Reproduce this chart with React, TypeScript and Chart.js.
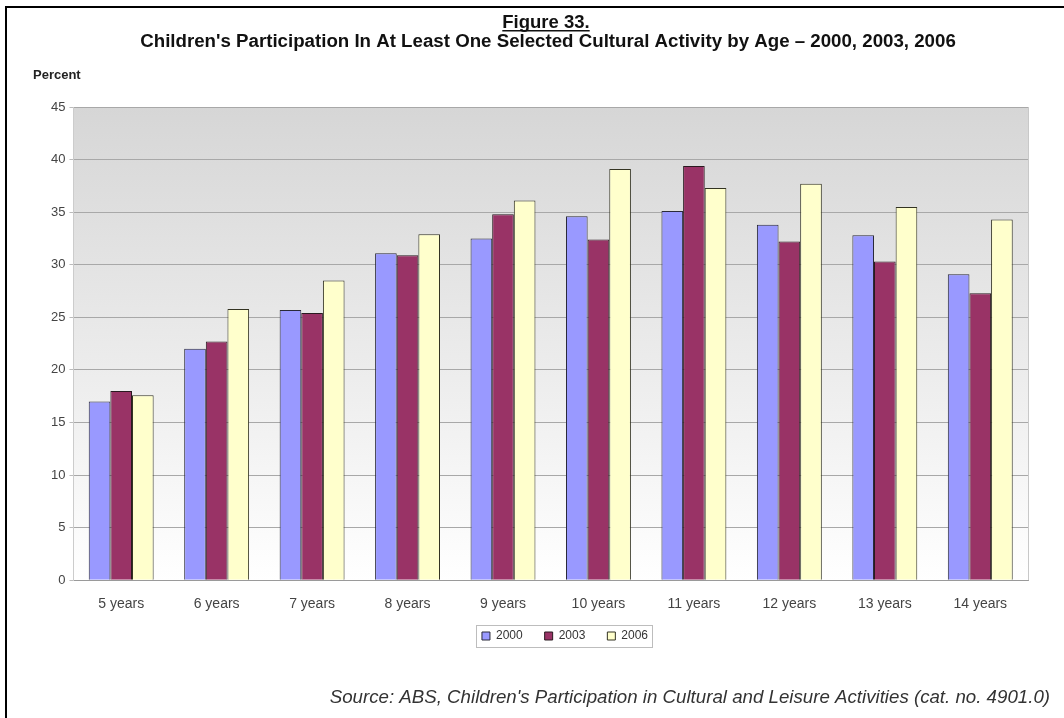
import React, { useEffect, useRef } from "react";
import { Chart, registerables } from "chart.js";

Chart.register(...registerables);

const categories = ["5 years", "6 years", "7 years", "8 years", "9 years", "10 years", "11 years", "12 years", "13 years", "14 years"];
const series2000 = [17.0, 22.0, 25.7, 31.1, 32.5, 34.6, 35.1, 33.8, 32.8, 29.1];
const series2003 = [18.0, 22.7, 25.4, 30.9, 34.8, 32.4, 39.4, 32.2, 30.3, 27.3];
const series2006 = [17.6, 25.8, 28.5, 32.9, 36.1, 39.1, 37.3, 37.7, 35.5, 34.3];
const seriesLabels = ["2000", "2003", "2006"];
const titleLine1 = "Figure 33.";
const titleLine2 = "Children's Participation In At Least One Selected Cultural Activity by Age \u2013 2000, 2003, 2006";
const yAxisLabel = "Percent";
const sourceText = "Source: ABS, Children's Participation in Cultural and Leisure Activities (cat. no. 4901.0)";

const FONT = "'Liberation Sans', Arial, sans-serif";

const decorPlugin = {
  id: "decor",
  afterLayout(chart: any) {
    const lg = chart.legend;
    if (!lg) return;
    const dx = 565 - (lg.left + lg.right) / 2;
    const dy = 636 - (lg.top + 22 + 6);
    lg.left += dx;
    lg.right += dx;
    lg.top += dy;
    lg.bottom += dy;
  },
  beforeDraw(chart: any) {
    const { ctx, chartArea } = chart;
    if (!chartArea) return;
    const g = ctx.createLinearGradient(0, chartArea.top, 0, chartArea.bottom);
    g.addColorStop(0, "#d6d6d6");
    g.addColorStop(0.55, "#ececec");
    g.addColorStop(1, "#ffffff");
    ctx.save();
    ctx.fillStyle = g;
    ctx.fillRect(chartArea.left, chartArea.top, chartArea.right - chartArea.left, chartArea.bottom - chartArea.top);
    ctx.restore();
  },
  afterDraw(chart: any) {
    const { ctx, chartArea } = chart;
    ctx.save();
    ctx.fillStyle = "#111";
    ctx.textAlign = "center";
    ctx.textBaseline = "alphabetic";
    ctx.font = `bold 18.5px ${FONT}`;
    const cx = 546;
    ctx.fillText(titleLine1, cx, 28);
    const w1 = ctx.measureText(titleLine1).width;
    ctx.fillRect(cx - w1 / 2, 30, w1, 1.5);
    ctx.font = `bold 18.7px ${FONT}`;
    ctx.fillText(titleLine2, cx + 2, 47);
    ctx.font = `bold 13px ${FONT}`;
    ctx.textAlign = "left";
    ctx.fillStyle = "#222";
    ctx.fillText(yAxisLabel, 33, 79);
    ctx.font = `italic 18.7px ${FONT}`;
    ctx.textAlign = "right";
    ctx.fillStyle = "#333";
    ctx.fillText(sourceText, 1050, 703);
    // plot area right border
    ctx.strokeStyle = "#c8c8c8";
    ctx.lineWidth = 1;
    ctx.beginPath();
    ctx.moveTo(chartArea.right + 0.5, chartArea.top);
    ctx.lineTo(chartArea.right + 0.5, chartArea.bottom);
    ctx.stroke();
    // legend border
    const lg = chart.legend;
    if (lg && lg.legendHitBoxes && lg.legendHitBoxes.length) {
      const hb = lg.legendHitBoxes;
      const x0 = hb[0].left - 6;
      const x1 = hb[hb.length - 1].left + hb[hb.length - 1].width + 4;
      const y0 = hb[0].top - 5;
      const y1 = hb[0].top + hb[0].height + 5;
      ctx.strokeStyle = "#bdbdbd";
      ctx.strokeRect(Math.round(x0) + 0.5, Math.round(y0) + 0.5, Math.round(x1 - x0), Math.round(y1 - y0));
    }
    ctx.restore();
  },
};

export default function App() {
  const ref = useRef<HTMLCanvasElement | null>(null);
  useEffect(() => {
    if (!ref.current) return;
    const chart = new Chart(ref.current, {
      type: "bar",
      data: {
        labels: categories,
        datasets: [
          { label: seriesLabels[0], data: series2000, backgroundColor: "#9999ff", borderColor: "#2a2a3a", borderWidth: 1 },
          { label: seriesLabels[1], data: series2003, backgroundColor: "#993366", borderColor: "#2a1a20", borderWidth: 1 },
          { label: seriesLabels[2], data: series2006, backgroundColor: "#ffffcc", borderColor: "#333322", borderWidth: 1 },
        ],
      },
      options: {
        animation: false,
        responsive: false,
        devicePixelRatio: 1,
        layout: { padding: { top: 107, left: 47, right: 36, bottom: 53 } },
        datasets: { bar: { categoryPercentage: 0.68, barPercentage: 1.0 } },
        scales: {
          x: {
            grid: { display: false },
            border: { display: true, color: "#9a9a9a" },
            ticks: { font: { family: FONT, size: 14 }, color: "#444", padding: 8, maxRotation: 0 },
          },
          y: {
            min: 0,
            max: 45,
            ticks: { stepSize: 5, font: { family: FONT, size: 13 }, color: "#444", padding: 4 },
            grid: { color: "#a8a8a8", tickLength: 4, tickColor: "#bbbbbb" },
            border: { display: true, color: "#cccccc" },
          },
        },
        plugins: {
          title: { display: false },
          tooltip: { enabled: false },
          legend: {
            position: "bottom",
            labels: {
              font: { family: FONT, size: 12 },
              color: "#333",
              boxWidth: 8,
              boxHeight: 8,
              padding: 22,
            },
          },
        },
      },
      plugins: [decorPlugin],
    });
    return () => chart.destroy();
  }, []);
  return (
    <div style={{ position: "absolute", left: 0, top: 0, width: 1064, height: 718, background: "#fff", overflow: "hidden" }}>
      <canvas ref={ref} width={1064} height={718} style={{ position: "absolute", left: 0, top: 0 }} />
      <div style={{ position: "absolute", left: 5, top: 6, width: 1064, height: 718, borderLeft: "2px solid #000", borderTop: "2px solid #000", pointerEvents: "none" }} />
    </div>
  );
}
